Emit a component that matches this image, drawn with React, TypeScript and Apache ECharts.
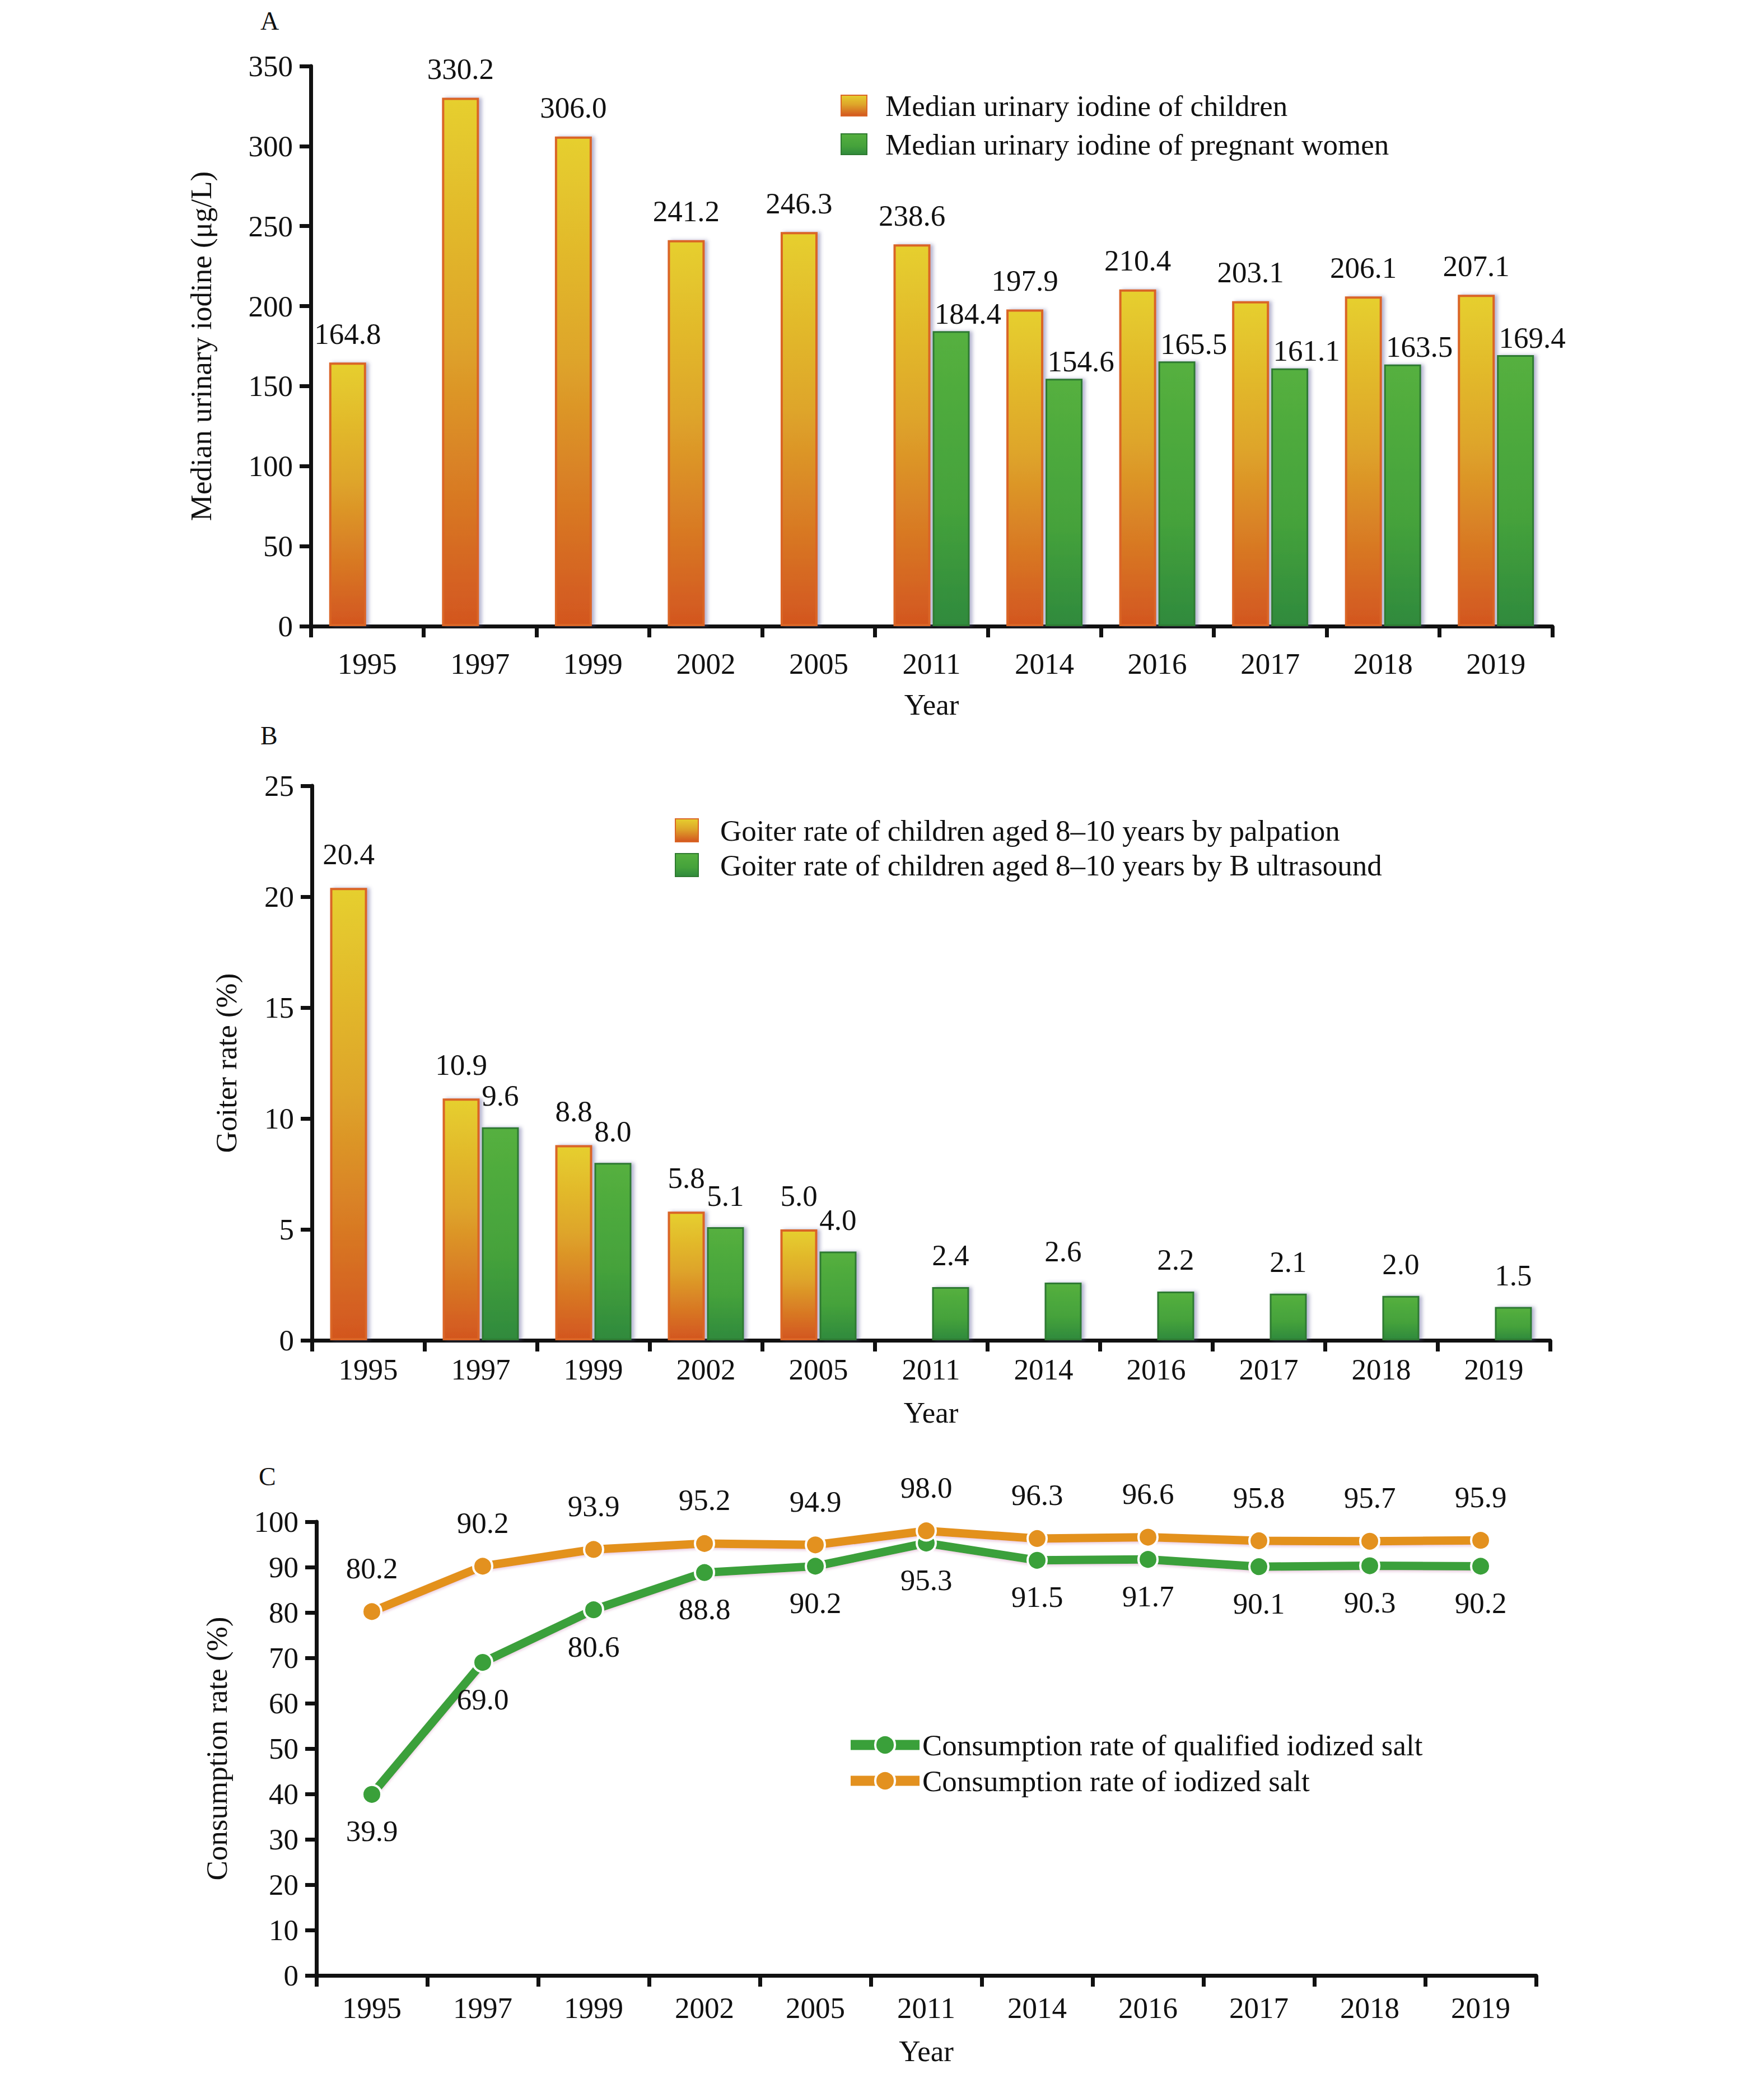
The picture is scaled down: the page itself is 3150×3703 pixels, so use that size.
import React, { useEffect, useRef } from "react";
import * as echarts from "echarts";

const years = ["1995", "1997", "1999", "2002", "2005", "2011", "2014", "2016", "2017", "2018", "2019"];
const childrenUI = [164.8, 330.2, 306.0, 241.2, 246.3, 238.6, 197.9, 210.4, 203.1, 206.1, 207.1];
const pregnantUI = [null, null, null, null, null, 184.4, 154.6, 165.5, 161.1, 163.5, 169.4];
const goiterPalpation = [20.4, 10.9, 8.8, 5.8, 5.0, null, null, null, null, null, null];
const goiterUltrasound = [null, 9.6, 8.0, 5.1, 4.0, 2.4, 2.6, 2.2, 2.1, 2.0, 1.5];
const qualifiedSalt = [39.9, 69.0, 80.6, 88.8, 90.2, 95.3, 91.5, 91.7, 90.1, 90.3, 90.2];
const iodizedSalt = [80.2, 90.2, 93.9, 95.2, 94.9, 98.0, 96.3, 96.6, 95.8, 95.7, 95.9];

const nChildren = "Median urinary iodine of children";
const nPregnant = "Median urinary iodine of pregnant women";
const nPalp = "Goiter rate of children aged 8\u201310 years by palpation";
const nUS = "Goiter rate of children aged 8\u201310 years by B ultrasound";
const nQual = "Consumption rate of qualified iodized salt";
const nIod = "Consumption rate of iodized salt";

const FONT = '"Liberation Serif", "Times New Roman", serif';
const INK = "#111";
const FS = 53;

const orangeGrad = () =>
  new echarts.graphic.LinearGradient(0, 0, 0, 1, [
    { offset: 0, color: "#e6cf2e" },
    { offset: 0.45, color: "#dea52a" },
    { offset: 1, color: "#d3561f" },
  ]);
const greenGrad = () =>
  new echarts.graphic.LinearGradient(0, 0, 0, 1, [
    { offset: 0, color: "#55b03f" },
    { offset: 0.6, color: "#45a23b" },
    { offset: 1, color: "#2f8a3c" },
  ]);

const fmt = (p: any) => Number(p.value).toFixed(1);
const txt = { fontSize: FS, fontFamily: FONT, color: INK };

function xAx(grid: number, margin: number, nameGap: number) {
  return {
    type: "category",
    gridIndex: grid,
    data: years,
    axisLine: { show: true, lineStyle: { color: INK, width: 7 } },
    axisTick: { show: true, length: 20, interval: 0, alignWithLabel: false, lineStyle: { color: INK, width: 7 } },
    axisLabel: { ...txt, margin, interval: 0 },
    name: "Year",
    nameLocation: "middle",
    nameGap,
    nameTextStyle: { ...txt },
    splitLine: { show: false },
  };
}
function yAx(grid: number, max: number, interval: number, name: string, nameGap: number) {
  return {
    type: "value",
    gridIndex: grid,
    min: 0,
    max,
    interval,
    axisLine: { show: true, lineStyle: { color: INK, width: 7 } },
    axisTick: { show: true, length: 20, lineStyle: { color: INK, width: 7 } },
    axisLabel: { ...txt, margin: 32 },
    splitLine: { show: false },
    name,
    nameLocation: "middle",
    nameGap,
    nameTextStyle: { ...txt },
  };
}

const barShadow = { shadowColor: "rgba(90,90,150,0.45)", shadowBlur: 6, shadowOffsetX: 5, shadowOffsetY: 0 };

function orangeBar(name: string, data: any[], axis: number, dist: number) {
  return {
    type: "bar",
    name,
    xAxisIndex: axis,
    yAxisIndex: axis,
    data,
    barWidth: 66,
    barGap: "6%",
    itemStyle: { color: orangeGrad(), borderColor: "#da6526", borderWidth: 4, ...barShadow },
    label: { show: true, position: "top", distance: dist, formatter: fmt, ...txt },
    emphasis: { disabled: true },
  };
}
function greenBar(name: string, data: any[], axis: number, dist: number, offset: number[]) {
  return {
    type: "bar",
    name,
    xAxisIndex: axis,
    yAxisIndex: axis,
    data,
    barWidth: 66,
    barGap: "6%",
    itemStyle: { color: greenGrad(), borderColor: "#2e7a30", borderWidth: 3, ...barShadow },
    label: { show: true, position: "top", distance: dist, offset, formatter: fmt, ...txt },
    emphasis: { disabled: true },
  };
}
function lineSeries(name: string, data: number[], color: string, pos: string, dist: number) {
  return {
    type: "line",
    name,
    xAxisIndex: 2,
    yAxisIndex: 2,
    data,
    symbol: "circle",
    symbolSize: 34,
    lineStyle: { color, width: 15, shadowColor: "rgba(200,120,170,0.35)", shadowBlur: 4, shadowOffsetY: 3 },
    itemStyle: { color, borderColor: "#fff", borderWidth: 4 },
    label: { show: true, position: pos, distance: dist, formatter: fmt, ...txt },
    emphasis: { disabled: true },
  };
}

function legend(names: string[], left: number, top: number, w: number, h: number, gap: number, pad: number, extra: any = {}) {
  return {
    data: names,
    left,
    top,
    orient: "vertical",
    itemWidth: w,
    itemHeight: h,
    itemGap: gap,
    selectedMode: false,
    textStyle: { ...txt, lineHeight: FS, padding: [0, 0, 0, pad] },
    ...extra,
  };
}

export default function App() {
  const ref = useRef<HTMLDivElement>(null);
  useEffect(() => {
    const chart = echarts.init(ref.current!, null, { renderer: "svg" });
    const option: any = {
      animation: false,
      backgroundColor: "#fff",
      grid: [
        { left: 555, top: 118, width: 2217, height: 1000 },
        { left: 557, top: 1403, width: 2211, height: 990 },
        { left: 565, top: 2717, width: 2178, height: 810 },
      ],
      xAxis: [xAx(0, 40, 113), xAx(1, 25, 102), xAx(2, 31, 108)],
      yAxis: [
        yAx(0, 350, 50, "Median urinary iodine (\u03bcg/L)", 170),
        yAx(1, 25, 5, "Goiter rate (%)", 127),
        yAx(2, 100, 10, "Consumption rate (%)", 152),
      ],
      legend: [
        legend([nChildren, nPregnant], 1496, 157, 46, 37, 16, 28, { icon: "rect" }),
        legend([nPalp, nUS], 1200, 1451, 41, 41, 9, 34, { icon: "rect" }),
        legend([nQual, nIod], 1505, 3084, 123, 44, 11, 0, {
          lineStyle: { width: 18 },
          itemStyle: { borderColor: "#fff", borderWidth: 4 },
        }),
      ],
      graphic: [
        { type: "text", left: 465, top: 14, style: { text: "A", font: `46px ${FONT}`, fill: INK } },
        { type: "text", left: 465, top: 1290, style: { text: "B", font: `46px ${FONT}`, fill: INK } },
        { type: "text", left: 462, top: 2613, style: { text: "C", font: `46px ${FONT}`, fill: INK } },
      ],
      series: [
        orangeBar(nChildren, childrenUI, 0, 25),
        greenBar(nPregnant, pregnantUI, 0, 5, [30, 0]),
        orangeBar(nPalp, goiterPalpation, 1, 34),
        greenBar(nUS, goiterUltrasound, 1, 30, [0, 0]),
        lineSeries(nQual, qualifiedSalt, "#3aa03a", "bottom", 20),
        lineSeries(nIod, iodizedSalt, "#e3911f", "top", 32),
      ],
    };
    chart.setOption(option);
    return () => chart.dispose();
  }, []);
  return (
    <div
      ref={ref}
      style={{ position: "absolute", left: 0, top: 0, width: 3150, height: 3703, background: "#fff" }}
    />
  );
}
